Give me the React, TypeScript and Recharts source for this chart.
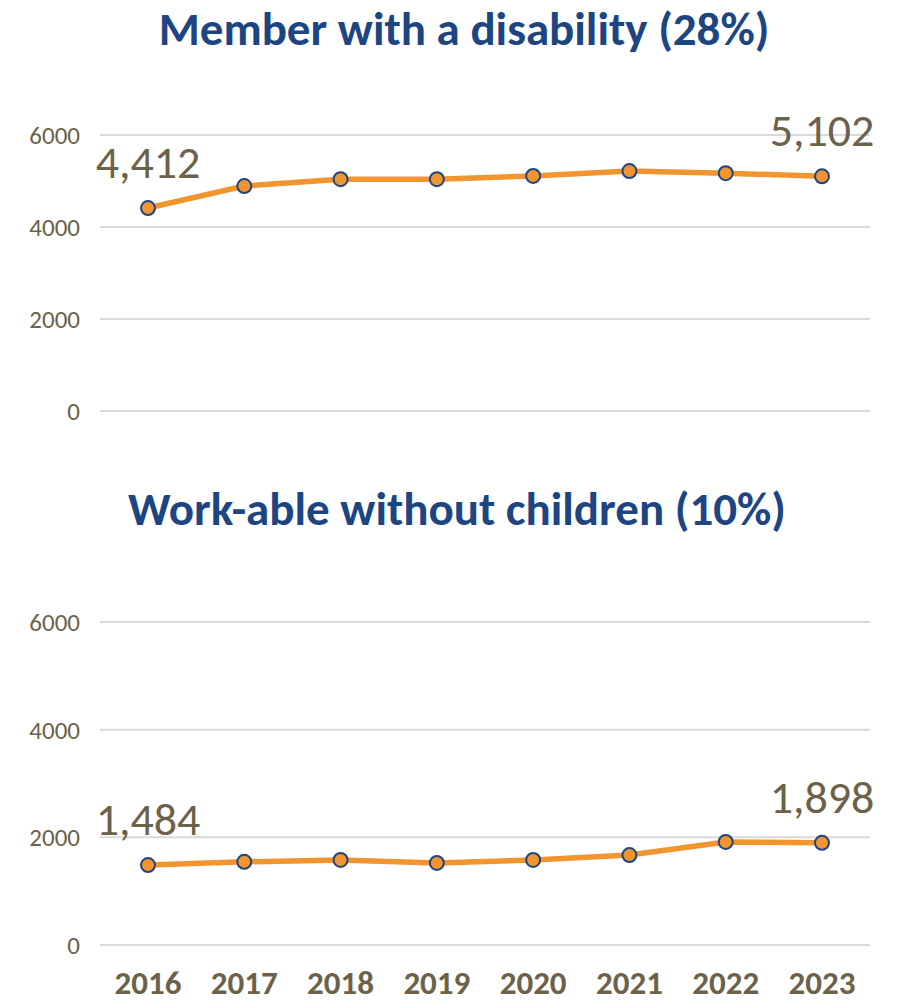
import { LineChart, Line, XAxis, YAxis, CartesianGrid, LabelList } from 'recharts';

const years = ['2016', '2017', '2018', '2019', '2020', '2021', '2022', '2023'];
const disability = [4412, 4890, 5040, 5040, 5110, 5215, 5170, 5102];
const workable = [1484, 1545, 1580, 1525, 1580, 1670, 1915, 1898];
const yTicks = [0, 2000, 4000, 6000];

const disabilityData = years.map((year, i) => ({ year, value: disability[i] }));
const workableData = years.map((year, i) => ({ year, value: workable[i] }));

const FONT = 'Carlito, Lato, sans-serif';
const TEXT = '#6b6249';
const ORANGE = '#f0952f';
const NAVY = '#1d4582';

// only the first and last points carry a value label
const endLabel = (last: number) => (props: any) => {
  const { x, y, value, index } = props;
  if (index !== 0 && index !== last) return null;
  return (
    <text x={x} y={y - 46} textAnchor="middle" dominantBaseline="central" fill={TEXT} fontSize={46} fontFamily={FONT}>
      {Number(value).toLocaleString('en-US')}
    </text>
  );
};

function Panel({ data, height, top, bottom, showX }: { data: any[]; height: number; top: number; bottom: number; showX: boolean }) {
  return (
    <LineChart width={902} height={height} data={data} margin={{ top, right: 32, bottom, left: 0 }}>
      <CartesianGrid horizontal vertical={false} stroke="#d9d9d9" strokeWidth={2} />
      <XAxis
        dataKey="year"
        hide={!showX}
        padding={{ left: 48, right: 48 }}
        axisLine={false}
        tickLine={false}
        tickMargin={20}
        height={60}
        tick={{ fill: TEXT, fontSize: 33, fontWeight: 700, fontFamily: FONT }}
      />
      <YAxis
        width={100}
        domain={[0, 6000]}
        ticks={yTicks}
        axisLine={false}
        tickLine={false}
        tickMargin={14}
        tick={{ fill: TEXT, fontSize: 25, fontFamily: FONT }}
      />
      <Line
        type="linear"
        dataKey="value"
        stroke={ORANGE}
        strokeWidth={5.5}
        dot={{ r: 7, fill: ORANGE, stroke: NAVY, strokeWidth: 2 }}
        isAnimationActive={false}
      >
        <LabelList dataKey="value" content={endLabel(data.length - 1)} />
      </Line>
    </LineChart>
  );
}

const titleStyle = (top: number, left: number, size: number): React.CSSProperties => ({
  position: 'absolute',
  top,
  left,
  width: 902,
  textAlign: 'center',
  color: NAVY,
  fontFamily: FONT,
  fontWeight: 700,
  fontSize: size,
  lineHeight: '60px',
});

export default function App() {
  return (
    <div style={{ position: 'absolute', left: 0, top: 0, width: 902, height: 1008, background: '#fff', overflow: 'hidden' }}>
      <div style={{ position: 'absolute', top: 0, left: 0 }}>
        <Panel data={disabilityData} height={440} top={135} bottom={29} showX={false} />
      </div>
      <div style={{ position: 'absolute', top: 440, left: 0 }}>
        <Panel data={workableData} height={568} top={182} bottom={3} showX />
      </div>
      <div style={titleStyle(-1, 13, 47)}>Member with a disability (28%)</div>
      <div style={titleStyle(479, 6, 47)}>Work-able without children (10%)</div>
    </div>
  );
}
